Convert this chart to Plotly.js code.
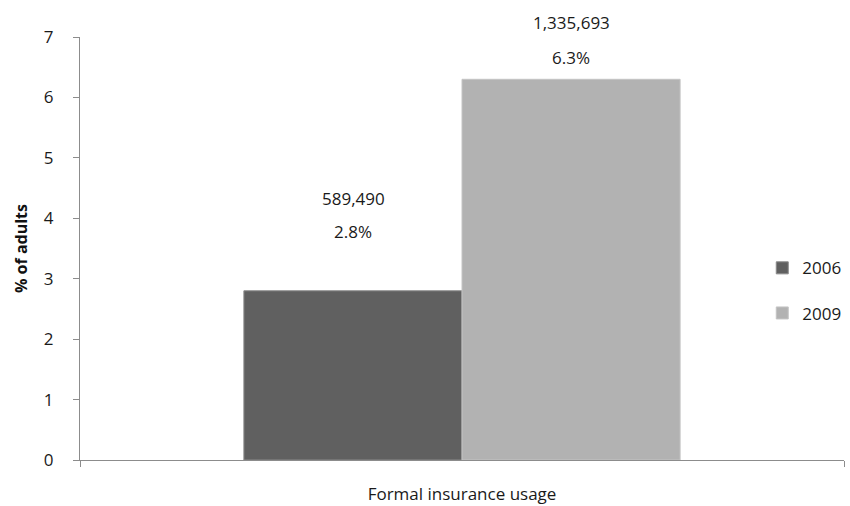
<!DOCTYPE html>
<html>
<head>
<meta charset="utf-8">
<script src="https://cdn.plot.ly/plotly-3.0.1.min.js"></script>
<style>html,body{margin:0;padding:0;background:#fff;}#chart{width:850px;height:506px;}</style>
</head>
<body>
<div id="chart"></div>
<script>
const categories = ["Formal insurance usage"];
const years = ["2006", "2009"];
const values2006 = [2.8];
const values2009 = [6.3];
const counts2006 = ["589,490"];
const counts2009 = ["1,335,693"];
const yTicks = [0, 1, 2, 3, 4, 5, 6, 7];

const FONT = "Open Sans, Liberation Sans, sans-serif";
const TXT = "#1a1a1a";
const colors = {"2006": "#606060", "2009": "#b2b2b2"};

const series = [
  {name: years[0], values: values2006, counts: counts2006, xshift: -109, pctShift: 59, cntShift: 92},
  {name: years[1], values: values2009, counts: counts2009, xshift: 109, pctShift: 22, cntShift: 57}
];

const traces = series.map((s, i) => ({
  type: "bar",
  name: s.name,
  x: categories,
  y: s.values,
  marker: {color: colors[s.name], line: {color: i === 0 ? "#8a8a8a" : "#c4c4c4", width: 1}},
  legendgroup: "g" + i,
  hoverinfo: "skip"
}));

const annotations = [];
series.forEach(s => {
  s.values.forEach((v, j) => {
    annotations.push({
      x: categories[j], y: v, xref: "x", yref: "y",
      text: v.toFixed(1) + "%", showarrow: false,
      xshift: s.xshift, yshift: s.pctShift, yanchor: "middle",
      font: {family: FONT, size: 17, color: TXT}
    });
    annotations.push({
      x: categories[j], y: v, xref: "x", yref: "y",
      text: s.counts[j], showarrow: false,
      xshift: s.xshift, yshift: s.cntShift, yanchor: "middle",
      font: {family: FONT, size: 17, color: TXT}
    });
  });
});

const layout = {
  width: 850, height: 506,
  margin: {l: 80, r: 6, t: 37, b: 46, pad: 0, autoexpand: false},
  paper_bgcolor: "#fff", plot_bgcolor: "#fff",
  barmode: "group",
  bargap: 0.429, bargroupgap: 0,
  showlegend: true,
  legend: {
    x: 0.893, y: 0.40, xanchor: "left", yanchor: "middle",
    font: {family: FONT, size: 17, color: TXT},
    traceorder: "grouped", tracegroupgap: 20,
    bgcolor: "rgba(0,0,0,0)"
  },
  xaxis: {
    type: "category",
    range: [-0.5, 0.5],
    showline: true, linecolor: "#8c8c8c", linewidth: 1,
    ticks: "outside", tickson: "boundaries", ticklen: 6, tickcolor: "#8c8c8c",
    tickfont: {family: FONT, size: 17, color: TXT},
    ticklabelstandoff: 19,
    showgrid: false, zeroline: false
  },
  yaxis: {
    range: [0, 7],
    tickvals: yTicks,
    ticktext: yTicks.map(String),
    showline: true, linecolor: "#8c8c8c", linewidth: 1,
    ticks: "outside", ticklen: 6, tickcolor: "#8c8c8c",
    tickfont: {family: FONT, size: 17, color: TXT},
    ticklabelstandoff: 16,
    showgrid: false, zeroline: false,
    title: {text: "% of adults", font: {family: FONT, size: 16, color: "#111", weight: "bold"}, standoff: 12}
  },
  annotations: annotations
};

Plotly.newPlot("chart", traces, layout, {displayModeBar: false, staticPlot: true});
</script>
</body>
</html>
